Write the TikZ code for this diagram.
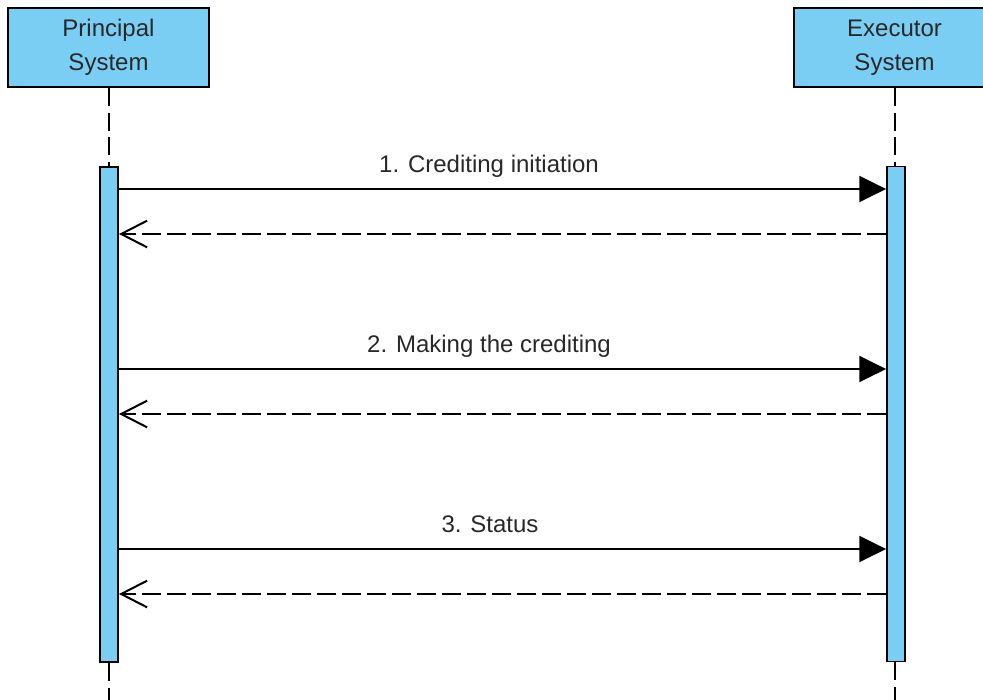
\documentclass[tikz,border=0pt]{standalone}
\usepackage{fontspec}
\setmainfont{Liberation Sans}
\usetikzlibrary{arrows.meta}
\definecolor{lifeblue}{RGB}{122,206,244}
\definecolor{labelgray}{RGB}{40,40,40}
\begin{document}
\begin{tikzpicture}[x=0.75pt,y=-0.75pt,
    sysbox/.style={draw, fill=lifeblue, line width=1.4pt, minimum width=150.75pt, minimum height=59.25pt,
      inner sep=0pt, align=center, text=labelgray, font=\fontsize{18}{25.5}\selectfont},
    actbar/.style={draw, fill=lifeblue, line width=1.4pt, minimum width=13.5pt, minimum height=371.25pt, inner sep=0pt},
    lifeline/.style={line width=1.5pt, dash pattern=on 13.5pt off 5pt},
    callmsg/.style={line width=1.5pt, -{Triangle[length=20pt,width=19.5pt]}},
    replymsg/.style={line width=1.5pt, dash pattern=on 14pt off 4.75pt, -{Straight Barb[length=19.5pt,width=20pt]}},
    msglabel/.style={anchor=base, text=labelgray, font=\fontsize{18}{22}\selectfont}]
  \useasboundingbox (0,0) rectangle (983,700);
  % lifeline heads
  \node[sysbox] (sys0) at (108.5,47.5) {Principal\\System};
  \node[sysbox] (sys1) at (894.5,47.5) {Executor\\System};
  % activation bars
  \node[actbar] (bar0) at (109,414.5) {};
  \node[actbar] (bar1) at (896,414) {};
  \coordinate (end0) at (sys0.south |- 0,700);
  \coordinate (end1) at (sys1.south |- 0,700);
  \draw[lifeline] (sys0.south) -- (sys0.south |- bar0.north);
  \draw[lifeline] (sys0.south |- bar0.south) -- (end0);
  \draw[lifeline] (sys1.south) -- (sys1.south |- bar1.north);
  \draw[lifeline] (sys1.south |- bar1.south) -- (end1);
  % messages
  \coordinate (call1a) at (bar0.east |- 0,189);
  \coordinate (call1b) at (bar1.west |- 0,189);
  \coordinate (back1a) at (bar1.west |- 0,234);
  \coordinate (back1b) at (bar0.east |- 0,234);
  \coordinate (call2a) at (bar0.east |- 0,369);
  \coordinate (call2b) at (bar1.west |- 0,369);
  \coordinate (back2a) at (bar1.west |- 0,414);
  \coordinate (back2b) at (bar0.east |- 0,414);
  \coordinate (call3a) at (bar0.east |- 0,549);
  \coordinate (call3b) at (bar1.west |- 0,549);
  \coordinate (back3a) at (bar1.west |- 0,594);
  \coordinate (back3b) at (bar0.east |- 0,594);
  \node[msglabel] (lab1) at (489,172) {1. Crediting initiation};
  \draw[callmsg] (call1a) -- (call1b);
  \draw[replymsg] (back1a) -- (back1b);
  \node[msglabel] (lab2) at (489,352) {2. Making the crediting};
  \draw[callmsg] (call2a) -- (call2b);
  \draw[replymsg] (back2a) -- (back2b);
  \node[msglabel] (lab3) at (490,532) {3. Status};
  \draw[callmsg] (call3a) -- (call3b);
  \draw[replymsg] (back3a) -- (back3b);
\end{tikzpicture}
\end{document}
